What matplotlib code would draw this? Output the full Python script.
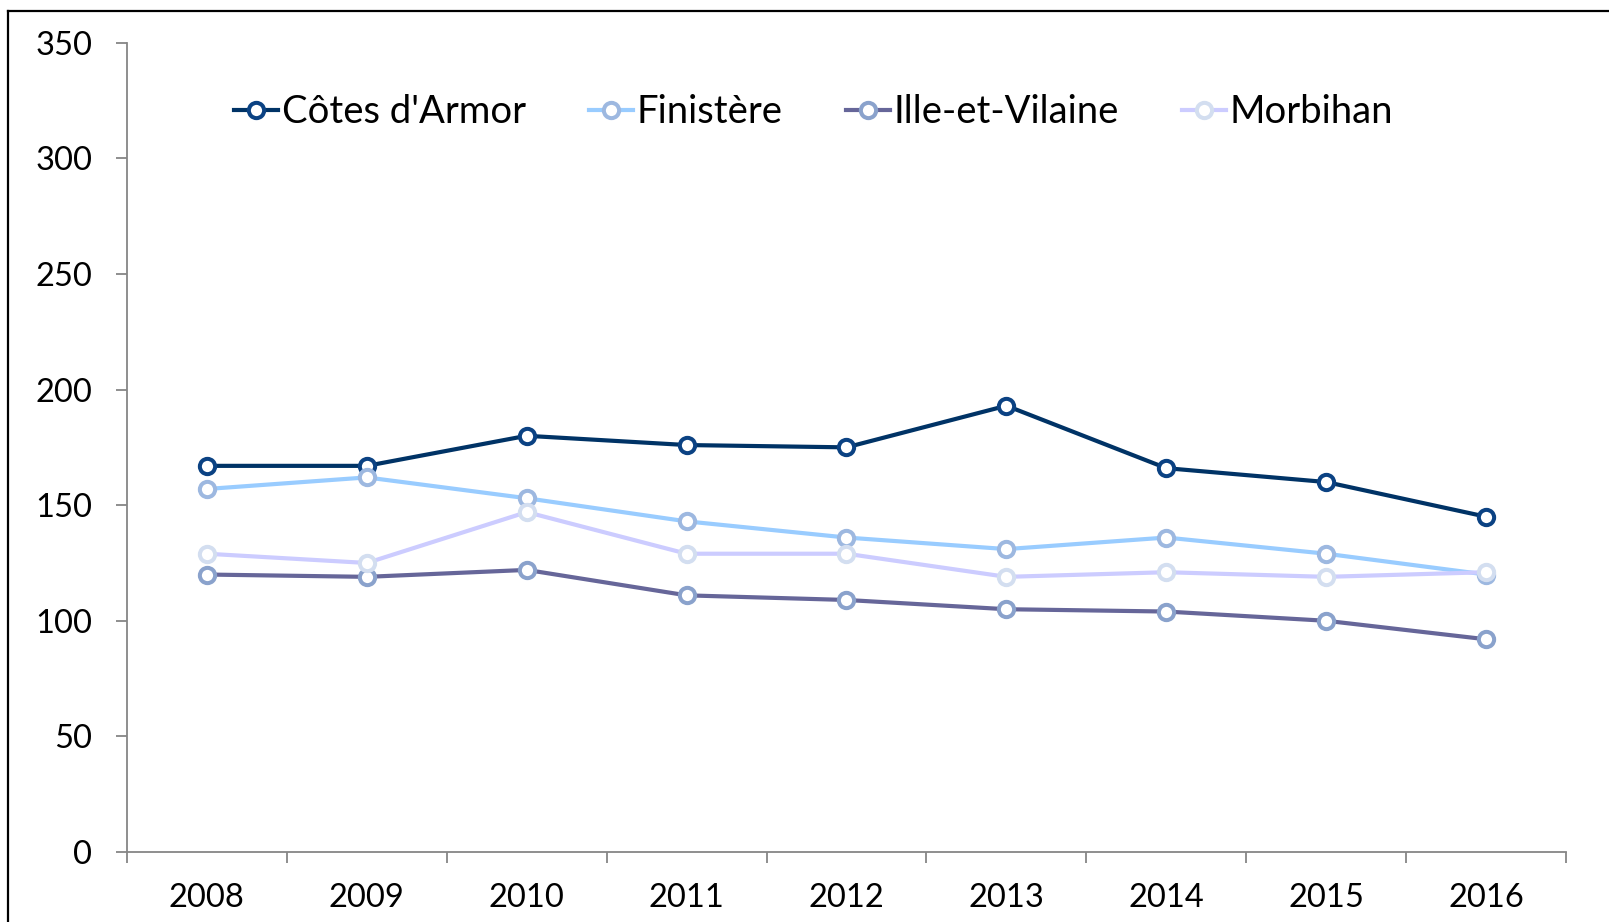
import matplotlib.pyplot as plt
from matplotlib.lines import Line2D

# values
years = ['2008', '2009', '2010', '2011', '2012', '2013', '2014', '2015', '2016']
cotes = [167, 167, 180, 176, 175, 193, 166, 160, 145]
finistere = [157, 162, 153, 143, 136, 131, 136, 129, 120]
ille = [120, 119, 122, 111, 109, 105, 104, 100, 92]
morbihan = [129, 125, 147, 129, 129, 119, 121, 119, 121]

names = ["Côtes d'Armor", 'Finistère', 'Ille-et-Vilaine', 'Morbihan']
line_colors = ['#003366', '#99ccff', '#666699', '#ccccff']
edge_colors = ['#0b4283', '#9db8e0', '#8aa2cc', '#d3def0']

plt.rcParams['font.family'] = ['Lato', 'DejaVu Sans']

fig = plt.figure(figsize=(16.09, 9.22), dpi=100)
ax = fig.add_axes([0.0789, 0.0759, 0.9733 - 0.0789, 0.9537 - 0.0759])

x = list(range(len(years)))
for vals, name, lc, ec in zip([cotes, finistere, ille, morbihan], names, line_colors, edge_colors):
    ax.plot(x, vals, color=lc, lw=3.0, marker='o', markersize=11,
            markerfacecolor='white', markeredgecolor=ec, markeredgewidth=2.9,
            label=name, solid_joinstyle='round')

ax.set_xlim(-0.5, len(years) - 0.5)
ax.set_ylim(0, 350)
ax.set_yticks(range(0, 351, 50))

# category boundaries as major ticks, labels on the centres
ax.set_xticks([i - 0.5 for i in range(len(years) + 1)])
ax.set_xticklabels([])
ax.set_xticks(x, minor=True)
ax.set_xticklabels(years, minor=True)
ax.tick_params(axis='x', which='major', length=8, width=1.3, color='#868686', direction='out')
ax.tick_params(axis='x', which='minor', length=0, pad=22, labelsize=23.5)
ax.tick_params(axis='y', length=8, width=1.3, color='#868686', direction='out', pad=17, labelsize=23.5)

for s in ['top', 'right']:
    ax.spines[s].set_visible(False)
for s in ['left', 'bottom']:
    ax.spines[s].set_color('#868686')
    ax.spines[s].set_linewidth(1.3)

ax.legend(loc='upper left', bbox_to_anchor=(0.064, 0.955), ncol=4, frameon=False,
          fontsize=27.5, handlelength=1.15, handletextpad=0.1, columnspacing=1.65,
          borderaxespad=0)

# outer chart frame (cut off at right/bottom in the reference)
fig.add_artist(Line2D([0.005, 0.005], [0, 1 - 11 / 922], transform=fig.transFigure,
                      color='black', lw=1.6))
fig.add_artist(Line2D([0.005, 1], [1 - 11 / 922, 1 - 11 / 922], transform=fig.transFigure,
                      color='black', lw=1.6))

fig.savefig('out.png', dpi=100)
